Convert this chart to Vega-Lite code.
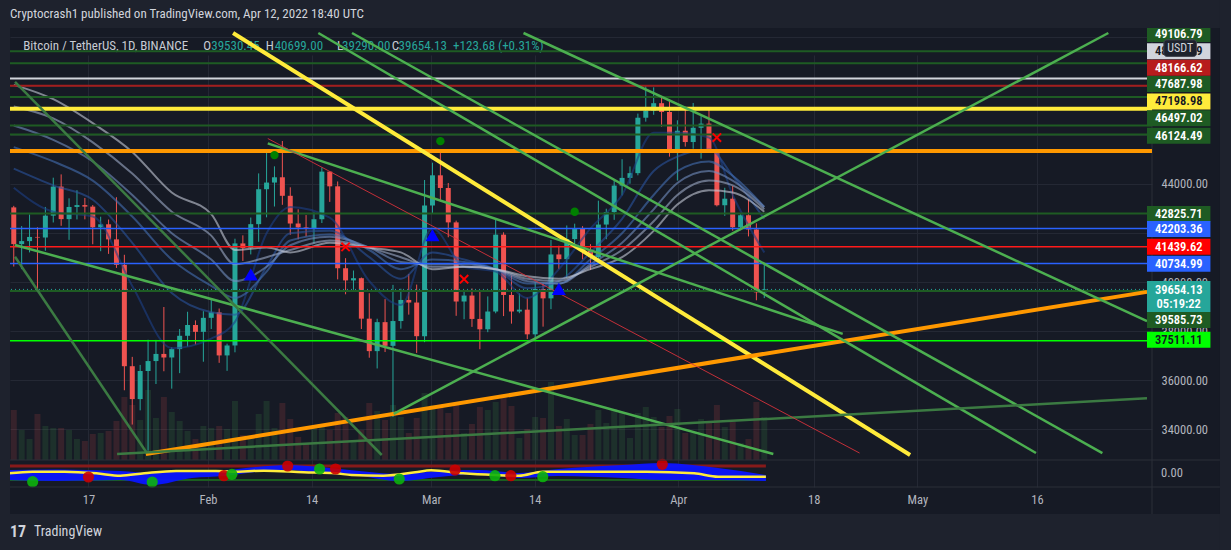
{
"$schema":"https://vega.github.io/schema/vega-lite/v6.json",
"width":1142,"height":459,
"autosize":{"type":"none"},
"padding":{"left":10,"top":28,"right":79,"bottom":63},
"background":"#161a25",
"config":{
 "font":"Liberation Sans Narrow, Roboto Condensed, DejaVu Sans Condensed, Roboto, sans-serif",
 "view":{"stroke":null},
 "axis":{"domain":false,"ticks":false,"gridColor":"#242834","gridWidth":1,"labelColor":"#b2b5be","labelFontSize":12.5,"labelOverlap":false,"labelFlush":false},
 "axisX":{"labelPadding":6},
 "axisY":{"labelPadding":9}
},
"datasets":{
 "candles":[
  {"date":"2022-01-07","open":43081,"high":43145,"low":40610,"close":41547,"vol":50},
  {"date":"2022-01-08","open":41547,"high":42300,"low":40501,"close":41672,"vol":30},
  {"date":"2022-01-09","open":41672,"high":42786,"low":41200,"close":41846,"vol":21},
  {"date":"2022-01-10","open":41846,"high":42248,"low":39650,"close":41822,"vol":46},
  {"date":"2022-01-11","open":41822,"high":43100,"low":41268,"close":42736,"vol":34},
  {"date":"2022-01-12","open":42736,"high":44322,"low":42450,"close":43950,"vol":32},
  {"date":"2022-01-13","open":43950,"high":44459,"low":42311,"close":42591,"vol":32},
  {"date":"2022-01-14","open":42591,"high":43459,"low":41725,"close":43099,"vol":30},
  {"date":"2022-01-15","open":43099,"high":43800,"low":42578,"close":43177,"vol":21},
  {"date":"2022-01-16","open":43177,"high":43476,"low":42581,"close":43113,"vol":19},
  {"date":"2022-01-17","open":43113,"high":43179,"low":41540,"close":42250,"vol":26},
  {"date":"2022-01-18","open":42250,"high":42691,"low":41250,"close":42375,"vol":27},
  {"date":"2022-01-19","open":42375,"high":42574,"low":41138,"close":41744,"vol":29},
  {"date":"2022-01-20","open":41744,"high":43505,"low":40553,"close":40680,"vol":39},
  {"date":"2022-01-21","open":40680,"high":41100,"low":35440,"close":36445,"vol":63},
  {"date":"2022-01-22","open":36445,"high":36835,"low":34008,"close":35071,"vol":55},
  {"date":"2022-01-23","open":35071,"high":36499,"low":34601,"close":36244,"vol":40},
  {"date":"2022-01-24","open":36244,"high":37550,"low":32917,"close":36660,"vol":70},
  {"date":"2022-01-25","open":36660,"high":37545,"low":35701,"close":36958,"vol":42},
  {"date":"2022-01-26","open":36958,"high":38919,"low":36234,"close":36809,"vol":63},
  {"date":"2022-01-27","open":36809,"high":37234,"low":35507,"close":37160,"vol":48},
  {"date":"2022-01-28","open":37160,"high":38000,"low":36155,"close":37716,"vol":39},
  {"date":"2022-01-29","open":37716,"high":38720,"low":37268,"close":38166,"vol":29},
  {"date":"2022-01-30","open":38166,"high":38359,"low":37351,"close":37881,"vol":21},
  {"date":"2022-01-31","open":37881,"high":38744,"low":36632,"close":38466,"vol":34},
  {"date":"2022-02-01","open":38466,"high":39265,"low":38000,"close":38694,"vol":32},
  {"date":"2022-02-02","open":38694,"high":38855,"low":36586,"close":36896,"vol":34},
  {"date":"2022-02-03","open":36896,"high":37387,"low":36250,"close":37311,"vol":31},
  {"date":"2022-02-04","open":37311,"high":41772,"low":37026,"close":41575,"vol":59},
  {"date":"2022-02-05","open":41575,"high":41913,"low":40843,"close":41382,"vol":25},
  {"date":"2022-02-06","open":41382,"high":42656,"low":41116,"close":42380,"vol":22},
  {"date":"2022-02-07","open":42380,"high":44500,"low":41645,"close":43840,"vol":46},
  {"date":"2022-02-08","open":43840,"high":45492,"low":42666,"close":44118,"vol":59},
  {"date":"2022-02-09","open":44118,"high":44795,"low":43117,"close":44339,"vol":32},
  {"date":"2022-02-10","open":44339,"high":45855,"low":43188,"close":43565,"vol":57},
  {"date":"2022-02-11","open":43565,"high":43920,"low":41938,"close":42407,"vol":41},
  {"date":"2022-02-12","open":42407,"high":43000,"low":41748,"close":42244,"vol":23},
  {"date":"2022-02-13","open":42244,"high":42760,"low":41870,"close":42197,"vol":17},
  {"date":"2022-02-14","open":42197,"high":42876,"low":41570,"close":42586,"vol":32},
  {"date":"2022-02-15","open":42586,"high":44751,"low":42428,"close":44575,"vol":35},
  {"date":"2022-02-16","open":44575,"high":44582,"low":43310,"close":43961,"vol":30},
  {"date":"2022-02-17","open":43961,"high":44164,"low":40073,"close":40538,"vol":47},
  {"date":"2022-02-18","open":40538,"high":40959,"low":39450,"close":40030,"vol":43},
  {"date":"2022-02-19","open":40030,"high":40443,"low":39639,"close":40122,"vol":20},
  {"date":"2022-02-20","open":40122,"high":40150,"low":38000,"close":38431,"vol":30},
  {"date":"2022-02-21","open":38431,"high":39494,"low":36800,"close":37075,"vol":57},
  {"date":"2022-02-22","open":37075,"high":38429,"low":36351,"close":38286,"vol":49},
  {"date":"2022-02-23","open":38286,"high":39249,"low":37036,"close":37296,"vol":40},
  {"date":"2022-02-24","open":37296,"high":39843,"low":34322,"close":38332,"vol":55},
  {"date":"2022-02-25","open":38332,"high":39683,"low":38014,"close":39214,"vol":43},
  {"date":"2022-02-26","open":39214,"high":40300,"low":38600,"close":39105,"vol":27},
  {"date":"2022-02-27","open":39105,"high":39855,"low":37000,"close":37699,"vol":42},
  {"date":"2022-02-28","open":37699,"high":44225,"low":37450,"close":43160,"vol":67},
  {"date":"2022-03-01","open":43160,"high":44949,"low":42809,"close":44421,"vol":55},
  {"date":"2022-03-02","open":44421,"high":45400,"low":43334,"close":43892,"vol":55},
  {"date":"2022-03-03","open":43892,"high":44101,"low":41832,"close":42454,"vol":47},
  {"date":"2022-03-04","open":42454,"high":42527,"low":38550,"close":39148,"vol":55},
  {"date":"2022-03-05","open":39148,"high":39613,"low":38407,"close":39397,"vol":27},
  {"date":"2022-03-06","open":39397,"high":39693,"low":38088,"close":38420,"vol":36},
  {"date":"2022-03-07","open":38420,"high":39547,"low":37155,"close":37988,"vol":53},
  {"date":"2022-03-08","open":37988,"high":39362,"low":37867,"close":38730,"vol":50},
  {"date":"2022-03-09","open":38730,"high":42594,"low":38656,"close":41941,"vol":58},
  {"date":"2022-03-10","open":41941,"high":42039,"low":38539,"close":39422,"vol":65},
  {"date":"2022-03-11","open":39422,"high":40236,"low":38223,"close":38730,"vol":54},
  {"date":"2022-03-12","open":38730,"high":39486,"low":38660,"close":38807,"vol":22},
  {"date":"2022-03-13","open":38807,"high":39310,"low":37578,"close":37777,"vol":31},
  {"date":"2022-03-14","open":37777,"high":39947,"low":37555,"close":39671,"vol":43},
  {"date":"2022-03-15","open":39671,"high":39887,"low":38098,"close":39280,"vol":42},
  {"date":"2022-03-16","open":39280,"high":41718,"low":38828,"close":41114,"vol":78},
  {"date":"2022-03-17","open":41114,"high":41478,"low":40500,"close":40917,"vol":34},
  {"date":"2022-03-18","open":40917,"high":42325,"low":40135,"close":41757,"vol":41},
  {"date":"2022-03-19","open":41757,"high":42400,"low":41499,"close":42201,"vol":25},
  {"date":"2022-03-20","open":42201,"high":42296,"low":40911,"close":41262,"vol":25},
  {"date":"2022-03-21","open":41262,"high":41544,"low":40467,"close":41002,"vol":36},
  {"date":"2022-03-22","open":41002,"high":43361,"low":40840,"close":42364,"vol":50},
  {"date":"2022-03-23","open":42364,"high":43025,"low":41751,"close":42882,"vol":37},
  {"date":"2022-03-24","open":42882,"high":44220,"low":42560,"close":43991,"vol":51},
  {"date":"2022-03-25","open":43991,"high":45094,"low":43579,"close":44313,"vol":48},
  {"date":"2022-03-26","open":44313,"high":44792,"low":44071,"close":44511,"vol":22},
  {"date":"2022-03-27","open":44511,"high":46999,"low":44421,"close":46827,"vol":47},
  {"date":"2022-03-28","open":46827,"high":48190,"low":46663,"close":47122,"vol":53},
  {"date":"2022-03-29","open":47122,"high":48096,"low":46950,"close":47434,"vol":43},
  {"date":"2022-03-30","open":47434,"high":47700,"low":46445,"close":47067,"vol":33},
  {"date":"2022-03-31","open":47067,"high":47600,"low":45200,"close":45510,"vol":44},
  {"date":"2022-04-01","open":45510,"high":46720,"low":44200,"close":46283,"vol":51},
  {"date":"2022-04-02","open":46283,"high":47213,"low":45620,"close":45811,"vol":27},
  {"date":"2022-04-03","open":45811,"high":47444,"low":45530,"close":46407,"vol":27},
  {"date":"2022-04-04","open":46407,"high":46890,"low":45118,"close":46580,"vol":41},
  {"date":"2022-04-05","open":46580,"high":47200,"low":45353,"close":45497,"vol":39},
  {"date":"2022-04-06","open":45497,"high":45507,"low":43121,"close":43170,"vol":55},
  {"date":"2022-04-07","open":43170,"high":43900,"low":42727,"close":43444,"vol":33},
  {"date":"2022-04-08","open":43444,"high":43970,"low":42107,"close":42252,"vol":38},
  {"date":"2022-04-09","open":42252,"high":42800,"low":42125,"close":42753,"vol":17},
  {"date":"2022-04-10","open":42753,"high":43410,"low":41868,"close":42158,"vol":21},
  {"date":"2022-04-11","open":42158,"high":42414,"low":39200,"close":39530,"vol":58},
  {"date":"2022-04-12","open":39530.45,"high":40699,"low":39290,"close":39654.13,"vol":43}
 ],
 "ribbon":[
  {"date":"2022-01-07","r1":43900,"r2":44700,"r3":45600,"r4":46500,"r5":47300,"r6":48200},
  {"date":"2022-01-12","r1":42900,"r2":44000,"r3":45000,"r4":45900,"r5":46800,"r6":47600},
  {"date":"2022-01-17","r1":42700,"r2":43400,"r3":44200,"r4":45000,"r5":45800,"r6":46600},
  {"date":"2022-01-22","r1":39800,"r2":41600,"r3":42700,"r4":43600,"r5":44500,"r6":45400},
  {"date":"2022-01-27","r1":37200,"r2":39500,"r3":40900,"r4":42000,"r5":42900,"r6":43700},
  {"date":"2022-02-01","r1":37600,"r2":38700,"r3":39800,"r4":40900,"r5":41900,"r6":42800},
  {"date":"2022-02-04","r1":38300,"r2":38600,"r3":39300,"r4":40000,"r5":40700,"r6":41300},
  {"date":"2022-02-08","r1":42000,"r2":40600,"r3":40400,"r4":40600,"r5":41000,"r6":41400},
  {"date":"2022-02-11","r1":43100,"r2":42000,"r3":41700,"r4":41500,"r5":41300,"r6":41200},
  {"date":"2022-02-16","r1":42650,"r2":42100,"r3":41950,"r4":41850,"r5":41700,"r6":41600},
  {"date":"2022-02-21","r1":40000,"r2":41000,"r3":41300,"r4":41400,"r5":41400,"r6":41400},
  {"date":"2022-02-25","r1":39000,"r2":40100,"r3":40500,"r4":40800,"r5":41000,"r6":41200},
  {"date":"2022-03-01","r1":42200,"r2":41200,"r3":40900,"r4":40700,"r5":40600,"r6":40500},
  {"date":"2022-03-05","r1":40600,"r2":40900,"r3":40800,"r4":40700,"r5":40600,"r6":40600},
  {"date":"2022-03-09","r1":40400,"r2":40500,"r3":40500,"r4":40500,"r5":40500,"r6":40500},
  {"date":"2022-03-13","r1":39300,"r2":39700,"r3":39900,"r4":40000,"r5":40100,"r6":40200},
  {"date":"2022-03-17","r1":40500,"r2":40000,"r3":39900,"r4":39900,"r5":40000,"r6":40100},
  {"date":"2022-03-21","r1":42200,"r2":41200,"r3":40900,"r4":40700,"r5":40600,"r6":40500},
  {"date":"2022-03-25","r1":43600,"r2":42600,"r3":42000,"r4":41600,"r5":41300,"r6":41000},
  {"date":"2022-03-29","r1":46200,"r2":44600,"r3":43600,"r4":43000,"r5":42500,"r6":42100},
  {"date":"2022-04-01","r1":46200,"r2":45200,"r3":44600,"r4":44100,"r5":43600,"r6":43200},
  {"date":"2022-04-05","r1":46000,"r2":45500,"r3":45000,"r4":44600,"r5":44200,"r6":43800},
  {"date":"2022-04-08","r1":43600,"r2":44400,"r3":44400,"r4":44200,"r5":44000,"r6":43700},
  {"date":"2022-04-12","r1":41200,"r2":42600,"r3":43100,"r4":43100,"r5":43000,"r6":42900}
 ],
 "hlines":[
  {"price":49604,"kind":"dkgreen"},
  {"price":49106.79,"kind":"dkgreen"},
  {"price":48461,"kind":"white"},
  {"price":48166.62,"kind":"dkred"},
  {"price":47687.98,"kind":"dkgreen"},
  {"price":47198.98,"kind":"yellow"},
  {"price":46497.02,"kind":"dkgreen"},
  {"price":46124.49,"kind":"dkgreen"},
  {"price":45440,"kind":"orange"},
  {"price":42825.71,"kind":"dkgreen"},
  {"price":42203.36,"kind":"blue"},
  {"price":41439.62,"kind":"red"},
  {"price":40734.99,"kind":"blue"},
  {"price":39585.73,"kind":"dkgreen"},
  {"price":37511.11,"kind":"lime"}
 ],
 "trend":[
  {"id":"y1","kind":"yellow","date":"2022-02-03T18:14:00Z","price":50367},
  {"id":"y1","kind":"yellow","date":"2022-04-30T10:58:00Z","price":32735},
  {"id":"o1","kind":"orange","date":"2022-01-23T17:15:00Z","price":32776},
  {"id":"o1","kind":"orange","date":"2022-05-30T10:40:00Z","price":39551},
  {"id":"ga","kind":"green","date":"2022-01-07T03:46:00Z","price":41510},
  {"id":"ga","kind":"green","date":"2022-04-13T03:30:00Z","price":32776},
  {"id":"gb","kind":"greenfade","date":"2022-01-07T03:46:00Z","price":41020},
  {"id":"gb","kind":"greenfade","date":"2022-01-23T20:15:00Z","price":32817},
  {"id":"gc","kind":"green","date":"2022-02-08T03:39:00Z","price":45755},
  {"id":"gc","kind":"green","date":"2022-04-21T22:18:00Z","price":37796},
  {"id":"gd","kind":"greenfade","date":"2022-01-07T03:46:00Z","price":48327},
  {"id":"gd","kind":"greenfade","date":"2022-02-22T13:57:00Z","price":32735},
  {"id":"ge","kind":"green","date":"2022-03-12T12:33:00Z","price":50367},
  {"id":"ge","kind":"green","date":"2022-05-30T10:40:00Z","price":38327},
  {"id":"lb","kind":"green","date":"2022-02-18T19:36:00Z","price":50367},
  {"id":"lb","kind":"green","date":"2022-05-24T19:09:00Z","price":32817},
  {"id":"lc","kind":"green","date":"2022-02-14T13:13:00Z","price":50367},
  {"id":"lc","kind":"green","date":"2022-05-16T09:24:00Z","price":32817},
  {"id":"gu","kind":"green","date":"2022-02-24T02:05:00Z","price":34449},
  {"id":"gu","kind":"green","date":"2022-05-25T13:13:00Z","price":50367},
  {"id":"gl","kind":"greenfade","date":"2022-01-20T01:55:00Z","price":32776},
  {"id":"gl","kind":"greenfade","date":"2022-05-30T10:40:00Z","price":35102},
  {"id":"rt","kind":"redthin","date":"2022-02-08T03:39:00Z","price":45959},
  {"id":"rt","kind":"redthin","date":"2022-04-24T01:28:00Z","price":32817}
 ],
 "triangles":[
  {"date":"2022-02-06","price":40286},
  {"date":"2022-03-01","price":41918},
  {"date":"2022-03-17","price":39673}
 ],
 "crosses":[
  {"date":"2022-02-18","price":41429},
  {"date":"2022-03-05","price":40082},
  {"date":"2022-04-06","price":46000}
 ],
 "gdots":[
  {"date":"2022-02-09","price":45265},
  {"date":"2022-03-02","price":45849},
  {"date":"2022-03-19","price":42898}
 ],
 "labels":[
  {"price":50326,"label":"49106.79","kind":"dkgreen"},
  {"price":49604,"label":"48461.59","kind":"white"},
  {"price":48910,"label":"48166.62","kind":"dkred"},
  {"price":48233,"label":"47687.98","kind":"dkgreen"},
  {"price":47510,"label":"47198.98","kind":"yellow"},
  {"price":46804,"label":"46497.02","kind":"dkgreen"},
  {"price":46069,"label":"46124.49","kind":"dkgreen"},
  {"price":42803,"label":"42825.71","kind":"dkgreen"},
  {"price":42176,"label":"42203.36","kind":"blue"},
  {"price":41441,"label":"41439.62","kind":"red"},
  {"price":40722,"label":"40734.99","kind":"blue"},
  {"price":38380,"label":"39585.73","kind":"dkgreen"},
  {"price":37551,"label":"37511.11","kind":"lime"}
 ],
 "indyellow":[
  {"date":"2022-01-07","v":0.0},{"date":"2022-01-10","v":0.16},{"date":"2022-01-14","v":0.16},{"date":"2022-01-18","v":0.0},
  {"date":"2022-01-21","v":-0.24},{"date":"2022-01-24","v":0.0},{"date":"2022-01-28","v":0.23},{"date":"2022-02-02","v":0.23},
  {"date":"2022-02-04","v":0.16},{"date":"2022-02-08","v":0.26},{"date":"2022-02-13","v":0.10},{"date":"2022-02-17","v":0.0},
  {"date":"2022-02-19","v":-0.17},{"date":"2022-02-23","v":-0.24},{"date":"2022-02-27","v":0.10},{"date":"2022-03-01","v":0.30},
  {"date":"2022-03-05","v":0.0},{"date":"2022-03-09","v":-0.17},{"date":"2022-03-12","v":-0.24},{"date":"2022-03-15","v":0.16},
  {"date":"2022-03-22","v":0.16},{"date":"2022-03-28","v":0.16},{"date":"2022-04-03","v":0.0},{"date":"2022-04-06","v":-0.34},
  {"date":"2022-04-12","v":-0.34}
 ],
 "indarea":[
  {"date":"2022-01-07","top":0.33,"bot":-0.67},{"date":"2022-01-13","top":0.38,"bot":-0.77},{"date":"2022-01-21","top":0.23,"bot":-0.67},
  {"date":"2022-01-25","top":0.03,"bot":-1.17},{"date":"2022-01-30","top":0.33,"bot":-0.47},{"date":"2022-02-03","top":0.33,"bot":-0.27},
  {"date":"2022-02-07","top":0.63,"bot":0.13},{"date":"2022-02-11","top":0.83,"bot":0.33},{"date":"2022-02-15","top":0.63,"bot":0.03},
  {"date":"2022-02-20","top":0.23,"bot":-0.27},{"date":"2022-02-25","top":-0.07,"bot":-0.77},{"date":"2022-03-02","top":0.23,"bot":-0.37},
  {"date":"2022-03-07","top":0.33,"bot":-0.07},{"date":"2022-03-12","top":0.03,"bot":-0.47},{"date":"2022-03-17","top":0.43,"bot":-0.27},
  {"date":"2022-03-25","top":0.83,"bot":-0.47},{"date":"2022-03-30","top":1.03,"bot":-0.67},{"date":"2022-04-06","top":0.53,"bot":-0.67},
  {"date":"2022-04-12","top":-0.17,"bot":-0.77}
 ],
 "inddots":[
  {"date":"2022-01-10","v":-0.84,"kind":"buy"},{"date":"2022-01-17","v":-0.37,"kind":"sell"},{"date":"2022-01-25","v":-0.87,"kind":"buy"},
  {"date":"2022-02-03","v":-0.24,"kind":"sell"},{"date":"2022-02-04","v":-0.10,"kind":"buy"},{"date":"2022-02-11","v":0.73,"kind":"sell"},
  {"date":"2022-02-15","v":0.43,"kind":"buy"},{"date":"2022-02-17","v":0.43,"kind":"sell"},{"date":"2022-02-25","v":-0.57,"kind":"buy"},
  {"date":"2022-03-04","v":0.33,"kind":"sell"},{"date":"2022-03-09","v":-0.24,"kind":"buy"},{"date":"2022-03-11","v":-0.24,"kind":"sell"},
  {"date":"2022-03-15","v":-0.34,"kind":"buy"},{"date":"2022-03-30","v":0.90,"kind":"sell"}
 ]
},
"resolve":{"scale":{"x":"independent","y":"independent"}},
"layer":[
 {"data":{"name":"candles"},"mark":{"type":"rule","opacity":0},
  "encoding":{"x":{"field":"date","type":"temporal","scale":{"type":"utc","domain":[{"year":2022,"month":1,"date":7,"hours":3,"minutes":46,"utc":true},{"year":2022,"month":5,"date":30,"hours":10,"minutes":40,"utc":true}]},
    "axis":{"title":null,"grid":true,"orient":"bottom","values":[{"year":2022,"month":1,"date":17,"utc":true},{"year":2022,"month":2,"date":1,"utc":true},{"year":2022,"month":2,"date":14,"utc":true},{"year":2022,"month":3,"date":1,"utc":true},{"year":2022,"month":3,"date":14,"utc":true},{"year":2022,"month":4,"date":1,"utc":true},{"year":2022,"month":4,"date":18,"utc":true},{"year":2022,"month":5,"date":1,"utc":true},{"year":2022,"month":5,"date":16,"utc":true}],"labelExpr":"utcFormat(datum.value, utcdate(datum.value) == 1 ? '%b' : '%d')"}},
   "y":{"field":"low","type":"quantitative","scale":{"domain":[32735,50367],"range":[432,0]},
    "axis":{"orient":"right","title":null,"grid":true,"labelAlign":"left","values":[34000,36000,38000,40000,42000,44000,46000,48000,50000],"labelExpr":"(datum.value == 42000 || datum.value == 46000 || datum.value == 48000 || datum.value == 50000) ? '' : format(datum.value, '.2f')"}}}},
 {"data":{"values":[{}]},"mark":{"type":"rule","color":"#2a2e39","strokeWidth":1},
  "encoding":{"x":{"datum":{"year":2022,"month":5,"date":30,"hours":10,"minutes":40,"utc":true},"type":"temporal","scale":{"type":"utc","domain":[{"year":2022,"month":1,"date":7,"hours":3,"minutes":46,"utc":true},{"year":2022,"month":5,"date":30,"hours":10,"minutes":40,"utc":true}]},"axis":null},
   "y":{"datum":44.53,"type":"quantitative","scale":{"domain":[-1.37,1.33],"range":[459,432]},"axis":null},"y2":{"datum":-4.07}}},
 {"data":{"name":"candles"},"mark":{"type":"bar","size":6,"opacity":0.15,"orient":"vertical"},
  "encoding":{"x":{"field":"date","type":"temporal","scale":{"type":"utc","domain":[{"year":2022,"month":1,"date":7,"hours":3,"minutes":46,"utc":true},{"year":2022,"month":5,"date":30,"hours":10,"minutes":40,"utc":true}]},"axis":null},
   "y":{"field":"vol","type":"quantitative","scale":{"domain":[0,100],"range":[432,332]},"axis":null},
   "color":{"condition":{"test":"datum.close >= datum.open","value":"#4caf50"},"value":"#ef5350"}}},
 {"resolve":{"scale":{"color":"independent"}},
  "layer":[
   {"data":{"values":[{}]},"mark":{"type":"text","align":"left","baseline":"middle","fontSize":13,"color":"#c8cbd3","text":"Bitcoin / TetherUS, 1D, BINANCE"},
    "encoding":{"x":{"datum":{"year":2022,"month":1,"date":8,"hours":4,"minutes":48,"utc":true},"type":"temporal","scale":{"type":"utc","domain":[{"year":2022,"month":1,"date":7,"hours":3,"minutes":46,"utc":true},{"year":2022,"month":5,"date":30,"hours":10,"minutes":40,"utc":true}]},"axis":null},
     "y":{"datum":49837,"type":"quantitative","scale":{"domain":[32735,50367],"range":[432,0]},"axis":null}}},
   {"data":{"values":[{}]},"mark":{"type":"text","align":"left","baseline":"middle","fontSize":13,"color":"#c8cbd3","text":"O"},
    "encoding":{"x":{"datum":{"year":2022,"month":1,"date":30,"hours":23,"minutes":54,"utc":true},"type":"temporal","scale":{"type":"utc","domain":[{"year":2022,"month":1,"date":7,"hours":3,"minutes":46,"utc":true},{"year":2022,"month":5,"date":30,"hours":10,"minutes":40,"utc":true}]},"axis":null},
     "y":{"datum":49837,"type":"quantitative","scale":{"domain":[32735,50367],"range":[432,0]},"axis":null}}},
   {"data":{"values":[{}]},"mark":{"type":"text","align":"left","baseline":"middle","fontSize":13,"color":"#26a69a","text":"39530.45"},
    "encoding":{"x":{"datum":{"year":2022,"month":2,"date":1,"utc":true},"type":"temporal","scale":{"type":"utc","domain":[{"year":2022,"month":1,"date":7,"hours":3,"minutes":46,"utc":true},{"year":2022,"month":5,"date":30,"hours":10,"minutes":40,"utc":true}]},"axis":null},
     "y":{"datum":49837,"type":"quantitative","scale":{"domain":[32735,50367],"range":[432,0]},"axis":null}}},
   {"data":{"values":[{}]},"mark":{"type":"text","align":"left","baseline":"middle","fontSize":13,"color":"#c8cbd3","text":"H"},
    "encoding":{"x":{"datum":{"year":2022,"month":2,"date":7,"hours":21,"minutes":36,"utc":true},"type":"temporal","scale":{"type":"utc","domain":[{"year":2022,"month":1,"date":7,"hours":3,"minutes":46,"utc":true},{"year":2022,"month":5,"date":30,"hours":10,"minutes":40,"utc":true}]},"axis":null},
     "y":{"datum":49837,"type":"quantitative","scale":{"domain":[32735,50367],"range":[432,0]},"axis":null}}},
   {"data":{"values":[{}]},"mark":{"type":"text","align":"left","baseline":"middle","fontSize":13,"color":"#26a69a","text":"40699.00"},
    "encoding":{"x":{"datum":{"year":2022,"month":2,"date":9,"hours":0,"minutes":43,"utc":true},"type":"temporal","scale":{"type":"utc","domain":[{"year":2022,"month":1,"date":7,"hours":3,"minutes":46,"utc":true},{"year":2022,"month":5,"date":30,"hours":10,"minutes":40,"utc":true}]},"axis":null},
     "y":{"datum":49837,"type":"quantitative","scale":{"domain":[32735,50367],"range":[432,0]},"axis":null}}},
   {"data":{"values":[{}]},"mark":{"type":"text","align":"left","baseline":"middle","fontSize":13,"color":"#c8cbd3","text":"L"},
    "encoding":{"x":{"datum":{"year":2022,"month":2,"date":16,"hours":22,"minutes":19,"utc":true},"type":"temporal","scale":{"type":"utc","domain":[{"year":2022,"month":1,"date":7,"hours":3,"minutes":46,"utc":true},{"year":2022,"month":5,"date":30,"hours":10,"minutes":40,"utc":true}]},"axis":null},
     "y":{"datum":49837,"type":"quantitative","scale":{"domain":[32735,50367],"range":[432,0]},"axis":null}}},
   {"data":{"values":[{}]},"mark":{"type":"text","align":"left","baseline":"middle","fontSize":13,"color":"#26a69a","text":"39290.00"},
    "encoding":{"x":{"datum":{"year":2022,"month":2,"date":17,"hours":13,"minutes":26,"utc":true},"type":"temporal","scale":{"type":"utc","domain":[{"year":2022,"month":1,"date":7,"hours":3,"minutes":46,"utc":true},{"year":2022,"month":5,"date":30,"hours":10,"minutes":40,"utc":true}]},"axis":null},
     "y":{"datum":49837,"type":"quantitative","scale":{"domain":[32735,50367],"range":[432,0]},"axis":null}}},
   {"data":{"values":[{}]},"mark":{"type":"text","align":"left","baseline":"middle","fontSize":13,"color":"#c8cbd3","text":"C"},
    "encoding":{"x":{"datum":{"year":2022,"month":2,"date":23,"hours":20,"minutes":10,"utc":true},"type":"temporal","scale":{"type":"utc","domain":[{"year":2022,"month":1,"date":7,"hours":3,"minutes":46,"utc":true},{"year":2022,"month":5,"date":30,"hours":10,"minutes":40,"utc":true}]},"axis":null},
     "y":{"datum":49837,"type":"quantitative","scale":{"domain":[32735,50367],"range":[432,0]},"axis":null}}},
   {"data":{"values":[{}]},"mark":{"type":"text","align":"left","baseline":"middle","fontSize":13,"color":"#26a69a","text":"39654.13"},
    "encoding":{"x":{"datum":{"year":2022,"month":2,"date":24,"hours":17,"minutes":2,"utc":true},"type":"temporal","scale":{"type":"utc","domain":[{"year":2022,"month":1,"date":7,"hours":3,"minutes":46,"utc":true},{"year":2022,"month":5,"date":30,"hours":10,"minutes":40,"utc":true}]},"axis":null},
     "y":{"datum":49837,"type":"quantitative","scale":{"domain":[32735,50367],"range":[432,0]},"axis":null}}},
   {"data":{"values":[{}]},"mark":{"type":"text","align":"left","baseline":"middle","fontSize":13,"color":"#26a69a","text":"+123.68 (+0.31%)"},
    "encoding":{"x":{"datum":{"year":2022,"month":3,"date":3,"hours":14,"minutes":38,"utc":true},"type":"temporal","scale":{"type":"utc","domain":[{"year":2022,"month":1,"date":7,"hours":3,"minutes":46,"utc":true},{"year":2022,"month":5,"date":30,"hours":10,"minutes":40,"utc":true}]},"axis":null},
     "y":{"datum":49837,"type":"quantitative","scale":{"domain":[32735,50367],"range":[432,0]},"axis":null}}},
   {"data":{"name":"candles"},"mark":{"type":"rule","strokeWidth":1},
    "encoding":{"x":{"field":"date","type":"temporal","scale":{"type":"utc","domain":[{"year":2022,"month":1,"date":7,"hours":3,"minutes":46,"utc":true},{"year":2022,"month":5,"date":30,"hours":10,"minutes":40,"utc":true}]},"axis":null},
     "y":{"field":"low","type":"quantitative","scale":{"domain":[32735,50367],"range":[432,0]},"axis":null},
     "y2":{"field":"high"},
     "color":{"condition":{"test":"datum.close >= datum.open","value":"#26a69a"},"value":"#ef5350"}}},
   {"data":{"name":"candles"},"mark":{"type":"bar","size":5,"orient":"vertical"},
    "encoding":{"x":{"field":"date","type":"temporal","scale":{"type":"utc","domain":[{"year":2022,"month":1,"date":7,"hours":3,"minutes":46,"utc":true},{"year":2022,"month":5,"date":30,"hours":10,"minutes":40,"utc":true}]},"axis":null},
     "y":{"field":"open","type":"quantitative","scale":{"domain":[32735,50367],"range":[432,0]},"axis":null},
     "y2":{"field":"close"},
     "color":{"condition":{"test":"datum.close >= datum.open","value":"#26a69a"},"value":"#ef5350"}}},
   {"data":{"name":"ribbon"},"transform":[{"fold":["r1","r2","r3","r4","r5","r6"],"as":["line","price"]}],
    "mark":{"type":"line","strokeWidth":2,"opacity":0.6,"interpolate":"monotone"},
    "encoding":{"x":{"field":"date","type":"temporal","scale":{"type":"utc","domain":[{"year":2022,"month":1,"date":7,"hours":3,"minutes":46,"utc":true},{"year":2022,"month":5,"date":30,"hours":10,"minutes":40,"utc":true}]},"axis":null},
     "y":{"field":"price","type":"quantitative","scale":{"domain":[32735,50367],"range":[432,0]},"axis":null},
     "color":{"field":"line","type":"nominal","scale":{"domain":["r1","r2","r3","r4","r5","r6"],"range":["#1c3f87","#29549e","#4470b4","#7390c2","#9eabc8","#c6ccd8"]},"legend":null}}},
   {"data":{"name":"hlines"},"transform":[{"filter":"datum.kind == 'yellow' || datum.kind == 'orange'"}],"mark":{"type":"rule","strokeWidth":4},
    "encoding":{"y":{"field":"price","type":"quantitative","scale":{"domain":[32735,50367],"range":[432,0]},"axis":null},
     "color":{"field":"kind","type":"nominal","scale":{"domain":["yellow","orange"],"range":["#ffeb3b","#ff9800"]},"legend":null}}},
   {"data":{"name":"hlines"},"transform":[{"filter":"datum.kind == 'dkgreen' || datum.kind == 'white' || datum.kind == 'dkred'"}],"mark":{"type":"rule","strokeWidth":2},
    "encoding":{"y":{"field":"price","type":"quantitative","scale":{"domain":[32735,50367],"range":[432,0]},"axis":null},
     "color":{"field":"kind","type":"nominal","scale":{"domain":["dkgreen","white","dkred"],"range":["#1e5b23","#d1d4dc","#a31d1d"]},"legend":null}}},
   {"data":{"name":"hlines"},"transform":[{"filter":"datum.kind == 'blue' || datum.kind == 'red' || datum.kind == 'lime'"}],"mark":{"type":"rule","strokeWidth":1.5},
    "encoding":{"y":{"field":"price","type":"quantitative","scale":{"domain":[32735,50367],"range":[432,0]},"axis":null},
     "color":{"field":"kind","type":"nominal","scale":{"domain":["blue","red","lime"],"range":["#2962ff","#ff1a1a","#00ff00"]},"legend":null}}},
   {"data":{"values":[{}]},"mark":{"type":"rule","strokeDash":[1,3],"color":"#26a69a","strokeWidth":1},
    "encoding":{"y":{"datum":39654.13,"type":"quantitative","scale":{"domain":[32735,50367],"range":[432,0]},"axis":null}}},
   {"data":{"name":"trend"},"transform":[{"filter":"datum.kind == 'yellow' || datum.kind == 'orange'"}],"mark":{"type":"line","strokeWidth":4},
    "encoding":{"x":{"field":"date","type":"temporal","scale":{"type":"utc","domain":[{"year":2022,"month":1,"date":7,"hours":3,"minutes":46,"utc":true},{"year":2022,"month":5,"date":30,"hours":10,"minutes":40,"utc":true}]},"axis":null},
     "y":{"field":"price","type":"quantitative","scale":{"domain":[32735,50367],"range":[432,0]},"axis":null},
     "detail":{"field":"id"},
     "color":{"field":"kind","type":"nominal","scale":{"domain":["yellow","orange"],"range":["#ffeb3b","#ff9800"]},"legend":null}}},
   {"data":{"name":"trend"},"transform":[{"filter":"datum.kind == 'green' || datum.kind == 'greenfade'"}],"mark":{"type":"line","strokeWidth":2.5},
    "encoding":{"x":{"field":"date","type":"temporal","scale":{"type":"utc","domain":[{"year":2022,"month":1,"date":7,"hours":3,"minutes":46,"utc":true},{"year":2022,"month":5,"date":30,"hours":10,"minutes":40,"utc":true}]},"axis":null},
     "y":{"field":"price","type":"quantitative","scale":{"domain":[32735,50367],"range":[432,0]},"axis":null},
     "detail":{"field":"id"},
     "color":{"field":"kind","type":"nominal","scale":{"domain":["green","greenfade"],"range":["#4caf50","#3b7a42"]},"legend":null}}},
   {"data":{"name":"trend"},"transform":[{"filter":"datum.kind == 'redthin'"}],"mark":{"type":"line","strokeWidth":1,"color":"#e0323c","opacity":0.85},
    "encoding":{"x":{"field":"date","type":"temporal","scale":{"type":"utc","domain":[{"year":2022,"month":1,"date":7,"hours":3,"minutes":46,"utc":true},{"year":2022,"month":5,"date":30,"hours":10,"minutes":40,"utc":true}]},"axis":null},
     "y":{"field":"price","type":"quantitative","scale":{"domain":[32735,50367],"range":[432,0]},"axis":null},
     "detail":{"field":"id"}}},
   {"data":{"name":"triangles"},"mark":{"type":"point","shape":"triangle-up","filled":true,"size":200,"color":"#0000ff","opacity":1},
    "encoding":{"x":{"field":"date","type":"temporal","scale":{"type":"utc","domain":[{"year":2022,"month":1,"date":7,"hours":3,"minutes":46,"utc":true},{"year":2022,"month":5,"date":30,"hours":10,"minutes":40,"utc":true}]},"axis":null},
     "y":{"field":"price","type":"quantitative","scale":{"domain":[32735,50367],"range":[432,0]},"axis":null}}},
   {"data":{"name":"crosses"},"mark":{"type":"point","shape":"M-1,-1L1,1M1,-1L-1,1","filled":false,"size":70,"strokeWidth":2,"color":"#ff0000","opacity":1},
    "encoding":{"x":{"field":"date","type":"temporal","scale":{"type":"utc","domain":[{"year":2022,"month":1,"date":7,"hours":3,"minutes":46,"utc":true},{"year":2022,"month":5,"date":30,"hours":10,"minutes":40,"utc":true}]},"axis":null},
     "y":{"field":"price","type":"quantitative","scale":{"domain":[32735,50367],"range":[432,0]},"axis":null}}},
   {"data":{"name":"gdots"},"mark":{"type":"circle","size":70,"color":"#008000","opacity":1},
    "encoding":{"x":{"field":"date","type":"temporal","scale":{"type":"utc","domain":[{"year":2022,"month":1,"date":7,"hours":3,"minutes":46,"utc":true},{"year":2022,"month":5,"date":30,"hours":10,"minutes":40,"utc":true}]},"axis":null},
     "y":{"field":"price","type":"quantitative","scale":{"domain":[32735,50367],"range":[432,0]},"axis":null}}},
   {"data":{"name":"labels"},"mark":{"type":"bar","size":16,"orient":"horizontal","clip":false},
    "encoding":{"x":{"datum":{"year":2022,"month":5,"date":30,"hours":10,"minutes":40,"utc":true},"type":"temporal","scale":{"type":"utc","domain":[{"year":2022,"month":1,"date":7,"hours":3,"minutes":46,"utc":true},{"year":2022,"month":5,"date":30,"hours":10,"minutes":40,"utc":true}]},"axis":null},
     "x2":{"datum":{"year":2022,"month":6,"date":7,"hours":11,"minutes":22,"utc":true}},
     "y":{"field":"price","type":"quantitative","scale":{"domain":[32735,50367],"range":[432,0]},"axis":null},
     "color":{"field":"kind","type":"nominal","scale":{"domain":["dkgreen","white","dkred","yellow","blue","red","lime"],"range":["#1e5b23","#d1d4dc","#b71c1c","#ffeb3b","#2962ff","#ff0000","#00ff00"]},"legend":null}}},
   {"data":{"name":"labels"},"mark":{"type":"text","fontSize":12.5,"fontWeight":600,"align":"center","baseline":"middle","clip":false},
    "encoding":{"x":{"datum":{"year":2022,"month":6,"date":3,"hours":11,"minutes":1,"utc":true},"type":"temporal","scale":{"type":"utc","domain":[{"year":2022,"month":1,"date":7,"hours":3,"minutes":46,"utc":true},{"year":2022,"month":5,"date":30,"hours":10,"minutes":40,"utc":true}]},"axis":null},
     "y":{"field":"price","type":"quantitative","scale":{"domain":[32735,50367],"range":[432,0]},"axis":null},
     "text":{"field":"label"},
     "color":{"field":"kind","type":"nominal","scale":{"domain":["dkgreen","white","dkred","yellow","blue","red","lime"],"range":["#ffffff","#131722","#ffffff","#131722","#ffffff","#ffffff","#131722"]},"legend":null}}},
   {"data":{"values":[{}]},"mark":{"type":"bar","size":31,"orient":"horizontal","color":"#26a69a","clip":false},
    "encoding":{"x":{"datum":{"year":2022,"month":5,"date":30,"hours":10,"minutes":40,"utc":true},"type":"temporal","scale":{"type":"utc","domain":[{"year":2022,"month":1,"date":7,"hours":3,"minutes":46,"utc":true},{"year":2022,"month":5,"date":30,"hours":10,"minutes":40,"utc":true}]},"axis":null},
     "x2":{"datum":{"year":2022,"month":6,"date":7,"hours":11,"minutes":22,"utc":true}},
     "y":{"datum":39355,"type":"quantitative","scale":{"domain":[32735,50367],"range":[432,0]},"axis":null}}},
   {"data":{"values":[{}]},"mark":{"type":"text","fontSize":12.5,"fontWeight":600,"align":"center","baseline":"middle","color":"#ffffff","text":"39654.13","clip":false},
    "encoding":{"x":{"datum":{"year":2022,"month":6,"date":3,"hours":11,"minutes":1,"utc":true},"type":"temporal","scale":{"type":"utc","domain":[{"year":2022,"month":1,"date":7,"hours":3,"minutes":46,"utc":true},{"year":2022,"month":5,"date":30,"hours":10,"minutes":40,"utc":true}]},"axis":null},
     "y":{"datum":39645,"type":"quantitative","scale":{"domain":[32735,50367],"range":[432,0]},"axis":null}}},
   {"data":{"values":[{}]},"mark":{"type":"text","fontSize":12.5,"fontWeight":600,"align":"center","baseline":"middle","color":"#ffffff","text":"05:19:22","clip":false},
    "encoding":{"x":{"datum":{"year":2022,"month":6,"date":3,"hours":11,"minutes":1,"utc":true},"type":"temporal","scale":{"type":"utc","domain":[{"year":2022,"month":1,"date":7,"hours":3,"minutes":46,"utc":true},{"year":2022,"month":5,"date":30,"hours":10,"minutes":40,"utc":true}]},"axis":null},
     "y":{"datum":39061,"type":"quantitative","scale":{"domain":[32735,50367],"range":[432,0]},"axis":null}}},
   {"data":{"values":[{}]},"mark":{"type":"rect","color":"#1e222d","stroke":"#434651","strokeWidth":1,"cornerRadius":3,"clip":false},
    "encoding":{"x":{"datum":{"year":2022,"month":6,"date":1,"hours":13,"minutes":51,"utc":true},"type":"temporal","scale":{"type":"utc","domain":[{"year":2022,"month":1,"date":7,"hours":3,"minutes":46,"utc":true},{"year":2022,"month":5,"date":30,"hours":10,"minutes":40,"utc":true}]},"axis":null},
     "x2":{"datum":{"year":2022,"month":6,"date":5,"hours":17,"minutes":14,"utc":true}},
     "y":{"datum":50082,"type":"quantitative","scale":{"domain":[32735,50367],"range":[432,0]},"axis":null},
     "y2":{"datum":49388}}},
   {"data":{"values":[{}]},"mark":{"type":"text","fontSize":12,"align":"center","baseline":"middle","color":"#d1d4dc","text":"USDT","clip":false},
    "encoding":{"x":{"datum":{"year":2022,"month":6,"date":3,"hours":15,"minutes":32,"utc":true},"type":"temporal","scale":{"type":"utc","domain":[{"year":2022,"month":1,"date":7,"hours":3,"minutes":46,"utc":true},{"year":2022,"month":5,"date":30,"hours":10,"minutes":40,"utc":true}]},"axis":null},
     "y":{"datum":49735,"type":"quantitative","scale":{"domain":[32735,50367],"range":[432,0]},"axis":null}}}
  ]},
 {"resolve":{"scale":{"color":"independent"}},
  "layer":[
   {"data":{"values":[{}]},"mark":{"type":"rule","color":"#861a1a","strokeWidth":3},
    "encoding":{"x":{"datum":{"year":2022,"month":1,"date":7,"hours":3,"minutes":46,"utc":true},"type":"temporal","scale":{"type":"utc","domain":[{"year":2022,"month":1,"date":7,"hours":3,"minutes":46,"utc":true},{"year":2022,"month":5,"date":30,"hours":10,"minutes":40,"utc":true}]},"axis":null},
     "x2":{"datum":{"year":2022,"month":4,"date":12,"utc":true}},
     "y":{"datum":0.73,"type":"quantitative","scale":{"domain":[-1.37,1.33],"range":[459,432]},"axis":null}}},
   {"data":{"values":[{}]},"mark":{"type":"rule","color":"#1b5e20","strokeWidth":2},
    "encoding":{"x":{"datum":{"year":2022,"month":1,"date":7,"hours":3,"minutes":46,"utc":true},"type":"temporal","scale":{"type":"utc","domain":[{"year":2022,"month":1,"date":7,"hours":3,"minutes":46,"utc":true},{"year":2022,"month":5,"date":30,"hours":10,"minutes":40,"utc":true}]},"axis":null},
     "x2":{"datum":{"year":2022,"month":4,"date":12,"utc":true}},
     "y":{"datum":-0.67,"type":"quantitative","scale":{"domain":[-1.37,1.33],"range":[459,432]},"axis":null}}},
   {"data":{"name":"indarea"},"mark":{"type":"area","color":"#0a14ff","opacity":0.95,"interpolate":"monotone"},
    "encoding":{"x":{"field":"date","type":"temporal","scale":{"type":"utc","domain":[{"year":2022,"month":1,"date":7,"hours":3,"minutes":46,"utc":true},{"year":2022,"month":5,"date":30,"hours":10,"minutes":40,"utc":true}]},"axis":null},
     "y":{"field":"top","type":"quantitative","scale":{"domain":[-1.37,1.33],"range":[459,432]},"axis":null},
     "y2":{"field":"bot"}}},
   {"data":{"name":"indyellow"},"mark":{"type":"line","color":"#ffeb3b","strokeWidth":2.5,"interpolate":"monotone"},
    "encoding":{"x":{"field":"date","type":"temporal","scale":{"type":"utc","domain":[{"year":2022,"month":1,"date":7,"hours":3,"minutes":46,"utc":true},{"year":2022,"month":5,"date":30,"hours":10,"minutes":40,"utc":true}]},"axis":null},
     "y":{"field":"v","type":"quantitative","scale":{"domain":[-1.37,1.33],"range":[459,432]},"axis":null}}},
   {"data":{"name":"inddots"},"mark":{"type":"circle","size":125,"opacity":0.9},
    "encoding":{"x":{"field":"date","type":"temporal","scale":{"type":"utc","domain":[{"year":2022,"month":1,"date":7,"hours":3,"minutes":46,"utc":true},{"year":2022,"month":5,"date":30,"hours":10,"minutes":40,"utc":true}]},"axis":null},
     "y":{"field":"v","type":"quantitative","scale":{"domain":[-1.37,1.33],"range":[459,432]},"axis":null},
     "color":{"field":"kind","type":"nominal","scale":{"domain":["buy","sell"],"range":["#0cb30c","#cc0000"]},"legend":null}}},
   {"data":{"values":[{}]},"mark":{"type":"rule","color":"#2a2e39","strokeWidth":1},
    "encoding":{"x":{"datum":{"year":2022,"month":1,"date":7,"hours":3,"minutes":46,"utc":true},"type":"temporal","scale":{"type":"utc","domain":[{"year":2022,"month":1,"date":7,"hours":3,"minutes":46,"utc":true},{"year":2022,"month":5,"date":30,"hours":10,"minutes":40,"utc":true}]},"axis":null},
     "x2":{"datum":{"year":2022,"month":6,"date":7,"hours":23,"minutes":26,"utc":true}},
     "y":{"datum":1.33,"type":"quantitative","scale":{"domain":[-1.37,1.33],"range":[459,432]},"axis":null}}},
   {"data":{"values":[{}]},"mark":{"type":"rule","color":"#2a2e39","strokeWidth":1},
    "encoding":{"x":{"datum":{"year":2022,"month":1,"date":7,"hours":3,"minutes":46,"utc":true},"type":"temporal","scale":{"type":"utc","domain":[{"year":2022,"month":1,"date":7,"hours":3,"minutes":46,"utc":true},{"year":2022,"month":5,"date":30,"hours":10,"minutes":40,"utc":true}]},"axis":null},
     "x2":{"datum":{"year":2022,"month":6,"date":7,"hours":23,"minutes":26,"utc":true}},
     "y":{"datum":-1.37,"type":"quantitative","scale":{"domain":[-1.37,1.33],"range":[459,432]},"axis":null}}},
   {"data":{"values":[{}]},"mark":{"type":"text","fontSize":12.5,"align":"left","baseline":"middle","color":"#b2b5be","text":"0.00","clip":false},
    "encoding":{"x":{"datum":{"year":2022,"month":5,"date":31,"hours":13,"minutes":45,"utc":true},"type":"temporal","scale":{"type":"utc","domain":[{"year":2022,"month":1,"date":7,"hours":3,"minutes":46,"utc":true},{"year":2022,"month":5,"date":30,"hours":10,"minutes":40,"utc":true}]},"axis":null},
     "y":{"datum":0,"type":"quantitative","scale":{"domain":[-1.37,1.33],"range":[459,432]},"axis":null}}}
  ]},
 {"layer":[
   {"data":{"values":[{}]},"mark":{"type":"rect","color":"#1e222d","clip":false},
    "encoding":{"x":{"datum":{"year":2022,"month":1,"date":5,"hours":21,"minutes":39,"utc":true},"type":"temporal","scale":{"type":"utc","domain":[{"year":2022,"month":1,"date":7,"hours":3,"minutes":46,"utc":true},{"year":2022,"month":5,"date":30,"hours":10,"minutes":40,"utc":true}]},"axis":null},
     "x2":{"datum":{"year":2022,"month":6,"date":9,"hours":8,"minutes":33,"utc":true}},
     "y":{"datum":47.4,"type":"quantitative","scale":{"domain":[-1.37,1.33],"range":[459,432]},"axis":null},
     "y2":{"datum":44.53}}},
   {"data":{"values":[{}]},"mark":{"type":"rect","color":"#1e222d","clip":false},
    "encoding":{"x":{"datum":{"year":2022,"month":1,"date":5,"hours":21,"minutes":39,"utc":true},"type":"temporal","scale":{"type":"utc","domain":[{"year":2022,"month":1,"date":7,"hours":3,"minutes":46,"utc":true},{"year":2022,"month":5,"date":30,"hours":10,"minutes":40,"utc":true}]},"axis":null},
     "x2":{"datum":{"year":2022,"month":6,"date":9,"hours":8,"minutes":33,"utc":true}},
     "y":{"datum":-4.07,"type":"quantitative","scale":{"domain":[-1.37,1.33],"range":[459,432]},"axis":null},
     "y2":{"datum":-7.7}}},
   {"data":{"values":[{}]},"mark":{"type":"rect","color":"#1e222d","clip":false},
    "encoding":{"x":{"datum":{"year":2022,"month":1,"date":5,"hours":21,"minutes":39,"utc":true},"type":"temporal","scale":{"type":"utc","domain":[{"year":2022,"month":1,"date":7,"hours":3,"minutes":46,"utc":true},{"year":2022,"month":5,"date":30,"hours":10,"minutes":40,"utc":true}]},"axis":null},
     "x2":{"datum":{"year":2022,"month":1,"date":7,"hours":3,"minutes":46,"utc":true}},
     "y":{"datum":47.4,"type":"quantitative","scale":{"domain":[-1.37,1.33],"range":[459,432]},"axis":null},
     "y2":{"datum":-7.7}}},
   {"data":{"values":[{}]},"mark":{"type":"rect","color":"#1e222d","clip":false},
    "encoding":{"x":{"datum":{"year":2022,"month":6,"date":7,"hours":23,"minutes":26,"utc":true},"type":"temporal","scale":{"type":"utc","domain":[{"year":2022,"month":1,"date":7,"hours":3,"minutes":46,"utc":true},{"year":2022,"month":5,"date":30,"hours":10,"minutes":40,"utc":true}]},"axis":null},
     "x2":{"datum":{"year":2022,"month":6,"date":9,"hours":8,"minutes":33,"utc":true}},
     "y":{"datum":47.4,"type":"quantitative","scale":{"domain":[-1.37,1.33],"range":[459,432]},"axis":null},
     "y2":{"datum":-7.7}}},
   {"data":{"values":[{}]},"mark":{"type":"text","fontSize":13,"align":"left","baseline":"middle","color":"#d1d4dc","text":"Cryptocrash1 published on TradingView.com, Apr 12, 2022 18:40 UTC","clip":false},
    "encoding":{"x":{"datum":{"year":2022,"month":1,"date":7,"hours":3,"minutes":46,"utc":true},"type":"temporal","scale":{"type":"utc","domain":[{"year":2022,"month":1,"date":7,"hours":3,"minutes":46,"utc":true},{"year":2022,"month":5,"date":30,"hours":10,"minutes":40,"utc":true}]},"axis":null},
     "y":{"datum":45.93,"type":"quantitative","scale":{"domain":[-1.37,1.33],"range":[459,432]},"axis":null}}},
   {"data":{"values":[{}]},"mark":{"type":"text","fontSize":16,"fontWeight":"bold","align":"left","baseline":"middle","color":"#d1d4dc","text":"17","clip":false},
    "encoding":{"x":{"datum":{"year":2022,"month":1,"date":7,"hours":3,"minutes":46,"utc":true},"type":"temporal","scale":{"type":"utc","domain":[{"year":2022,"month":1,"date":7,"hours":3,"minutes":46,"utc":true},{"year":2022,"month":5,"date":30,"hours":10,"minutes":40,"utc":true}]},"axis":null},
     "y":{"datum":-5.87,"type":"quantitative","scale":{"domain":[-1.37,1.33],"range":[459,432]},"axis":null}}},
   {"data":{"values":[{}]},"mark":{"type":"text","fontSize":14,"align":"left","baseline":"middle","color":"#d1d4dc","text":"TradingView","clip":false},
    "encoding":{"x":{"datum":{"year":2022,"month":1,"date":10,"hours":3,"minutes":58,"utc":true},"type":"temporal","scale":{"type":"utc","domain":[{"year":2022,"month":1,"date":7,"hours":3,"minutes":46,"utc":true},{"year":2022,"month":5,"date":30,"hours":10,"minutes":40,"utc":true}]},"axis":null},
     "y":{"datum":-5.87,"type":"quantitative","scale":{"domain":[-1.37,1.33],"range":[459,432]},"axis":null}}}
  ]}
]
}
